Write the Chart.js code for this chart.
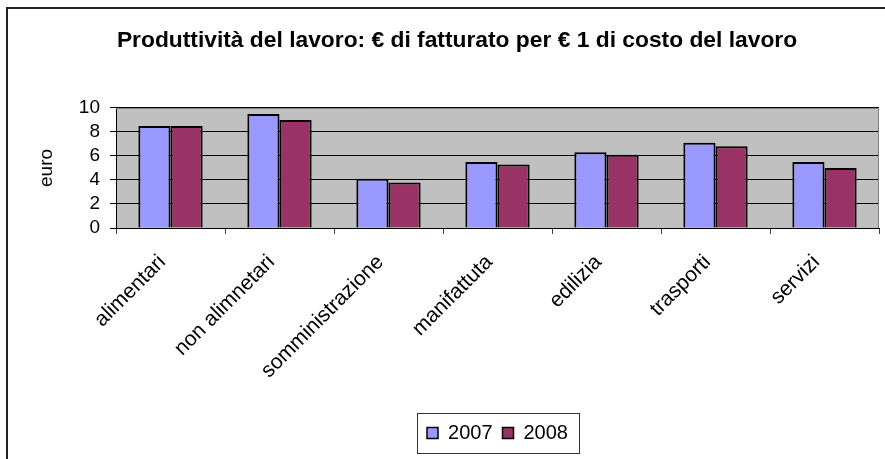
<!DOCTYPE html>
<html>
<head>
<meta charset="utf-8">
<script src="https://cdn.jsdelivr.net/npm/chart.js@4/dist/chart.umd.min.js"></script>
<style>
  html, body { margin: 0; padding: 0; background: #fff; }
  #wrap { width: 885px; height: 459px; position: relative; }
</style>
</head>
<body>
<div id="wrap"><canvas id="chart"></canvas></div>
<script>
// dati
const categories = ['alimentari', 'non alimnetari', 'somministrazione', 'manifattuta', 'edilizia', 'trasporti', 'servizi'];
const values2007 = [8.5, 9.5, 4.1, 5.5, 6.3, 7.1, 5.5];
const values2008 = [8.5, 9.0, 3.8, 5.3, 6.1, 6.8, 5.0];
const seriesLabels = ['2007', '2008'];
const yMin = 0, yMax = 10, yStep = 2;

const FONT = "'Liberation Sans', Arial, sans-serif";
const PAD_LEFT = 35;

// sfondo grigio dell'area del grafico + cornice
const framePlugin = {
    id: 'frame',
    beforeDraw(chart) {
        const { ctx, chartArea: a } = chart;
        ctx.save();
        ctx.fillStyle = '#fff';
        ctx.fillRect(0, 0, chart.width, chart.height);
        ctx.fillStyle = '#c0c0c0';
        ctx.fillRect(a.left, a.top, a.right - a.left, a.bottom - a.top);
        ctx.restore();
    },
    afterDraw(chart) {
        const { ctx, chartArea: a } = chart;
        ctx.save();
        // bordo superiore/destro del plot
        ctx.strokeStyle = '#808080';
        ctx.lineWidth = 1;
        ctx.beginPath();
        ctx.moveTo(a.left, a.top + 0.5);
        ctx.lineTo(a.right - 0.5, a.top + 0.5);
        ctx.lineTo(a.right - 0.5, a.bottom);
        ctx.stroke();
        // cornice esterna
        ctx.strokeStyle = '#222';
        ctx.lineWidth = 2;
        ctx.beginPath();
        ctx.moveTo(7, chart.height);
        ctx.lineTo(7, 8);
        ctx.lineTo(chart.width, 8);
        ctx.stroke();
        // riquadro legenda
        const hb = chart.legend.legendHitBoxes;
        if (hb && hb.length) {
            const first = hb[0], last = hb[hb.length - 1];
            const x0 = first.left - 10, x1 = last.left + last.width + 11;
            const yc = first.top + first.height / 2;
            ctx.strokeStyle = '#333';
            ctx.lineWidth = 1;
            ctx.strokeRect(Math.round(x0) + 0.5, Math.round(yc - 20) + 0.5, Math.round(x1 - x0), 40);
        }
        ctx.restore();
    }
};

new Chart(document.getElementById('chart'), {
    type: 'bar',
    data: {
        labels: categories,
        datasets: [{
            label: seriesLabels[0],
            data: values2007,
            backgroundColor: '#9999ff',
            borderColor: '#000',
            borderWidth: 2
        }, {
            label: seriesLabels[1],
            data: values2008,
            backgroundColor: '#993366',
            borderColor: '#000',
            borderWidth: 2
        }]
    },
    options: {
        responsive: true,
        maintainAspectRatio: false,
        animation: false,
        categoryPercentage: 0.59,
        barPercentage: 1,
        layout: { padding: { left: PAD_LEFT, right: 6, top: 0, bottom: 6 } },
        plugins: {
            title: {
                display: true,
                text: 'Produttività del lavoro: € di fatturato per € 1 di costo del lavoro',
                color: '#000',
                font: { family: FONT, size: 22.8, weight: 'bold', lineHeight: 1.2 },
                padding: { top: 27, bottom: 53.6 }
            },
            legend: {
                position: 'bottom',
                fullSize: false,
                labels: {
                    color: '#000',
                    font: { family: FONT, size: 20 },
                    boxWidth: 11,
                    boxHeight: 11,
                    padding: 10,
                    generateLabels(chart) {
                        return chart.data.datasets.map((ds, i) => ({
                            text: ds.label,
                            fillStyle: ds.backgroundColor,
                            strokeStyle: '#000',
                            lineWidth: 1.5,
                            datasetIndex: i
                        }));
                    }
                }
            },
            tooltip: { enabled: false }
        },
        scales: {
            x: {
                afterFit(s) { s.height = 185; },
                grid: {
                    offset: true,
                    drawOnChartArea: false,
                    drawTicks: true,
                    tickLength: 6,
                    color: '#404040'
                },
                border: { color: '#000', width: 1 },
                ticks: {
                    color: '#000',
                    font: { family: FONT, size: 21 },
                    minRotation: 45,
                    maxRotation: 45,
                    autoSkip: false,
                    labelOffset: -8,
                    padding: 16
                }
            },
            y: {
                min: yMin,
                max: yMax,
                afterFit(s) { s.width = 116 - PAD_LEFT; },
                grid: { color: '#000', tickLength: 6, lineWidth: 1 },
                border: { color: '#000', width: 1 },
                ticks: {
                    stepSize: yStep,
                    autoSkip: false,
                    color: '#000',
                    font: { family: FONT, size: 19 },
                    padding: 10
                },
                title: {
                    display: true,
                    text: 'euro',
                    color: '#000',
                    font: { family: FONT, size: 19 },
                    padding: { top: 0, bottom: 0 }
                }
            }
        }
    },
    plugins: [framePlugin]
});
</script>
</body>
</html>
